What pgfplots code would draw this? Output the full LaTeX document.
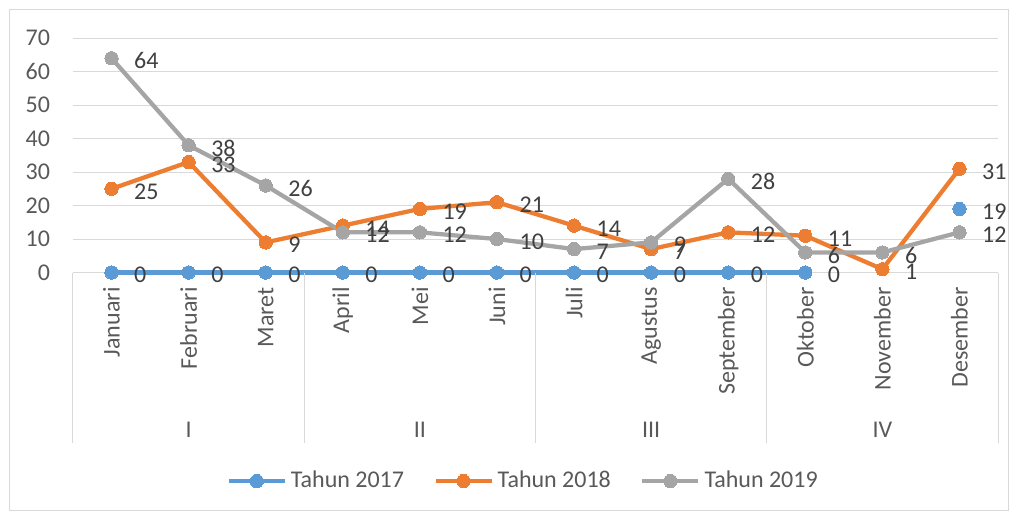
\documentclass[border=0pt]{standalone}
\usepackage{fontspec}
\setmainfont{Carlito}
\usepackage{pgfplots}
\pgfplotsset{compat=1.18}
\definecolor{c17}{HTML}{5B9BD5}
\definecolor{c18}{HTML}{ED7D31}
\definecolor{c19}{HTML}{A5A5A5}
\definecolor{gridc}{HTML}{D9D9D9}
\definecolor{txt}{HTML}{595959}
\definecolor{lbl}{HTML}{404040}
\begin{document}
\fontsize{18}{21}\selectfont
\begin{tikzpicture}[x=1pt,y=1pt]
\path (-54.75,-181.1) rectangle (709.5,204.4);
\draw[gridc, line width=0.75pt] (-47.25,-178.1) rectangle (701.25,196.9);
\begin{axis}[
  at={(0,0)}, anchor=south west, scale only axis,
  width=693.75pt, height=175.8pt,
  xmin=-0.5, xmax=11.5, ymin=0, ymax=70,
  ytick={0,10,...,70},
  xtick={0,...,11},
  xticklabels={Januari,Februari,Maret,April,Mei,Juni,Juli,Agustus,September,Oktober,November,Desember},
  axis x line*=bottom, axis y line*=left,
  x axis line style={gridc, line width=0.75pt, -},
  y axis line style={draw=none},
  ymajorgrids, grid style={gridc, line width=0.75pt},
  major tick length=0pt,
  /pgf/number format/assume math mode=true,
  tick label style={color=txt, font=\fontsize{18}{21}\selectfont},
  yticklabel style={anchor=east, inner sep=0pt, xshift=-17pt},
  xticklabel style={rotate=90, anchor=east, inner sep=0pt},
  xticklabel shift=11pt,
  clip=false,
  unbounded coords=jump,
  line join=round,
  every axis plot/.append style={line width=3.2pt, mark=*, mark size=5pt},
  nodes near coords,
  nodes near coords style={anchor=west, inner sep=0pt, xshift=17pt, yshift=-2pt, color=lbl, font=\fontsize{18}{21}\selectfont},
  legend columns=3,
  legend style={draw=none, fill=none, at={(axis description cs:0.5,0)}, anchor=center, yshift=-156.4pt, xshift=-9pt,
    font=\fontsize{18}{21}\selectfont, text=txt,
    /tikz/every even column/.append style={column sep=20pt},
    /tikz/every odd column/.append style={column sep=1pt}},
  legend image code/.code={\draw[mark repeat=2,mark phase=2,#1] plot coordinates {(0pt,0pt) (21pt,0pt) (42pt,0pt)};},
]
\addplot[color=c17, mark options={fill=c17, draw=c17, line width=0pt}] coordinates {
 (0,0) (1,0) (2,0) (3,0) (4,0) (5,0) (6,0) (7,0) (8,0) (9,0) (10,nan) (11,19)};
\addlegendentry{Tahun 2017}
\addplot[color=c18, mark options={fill=c18, draw=c18, line width=0pt}] coordinates {
 (0,25) (1,33) (2,9) (3,14) (4,19) (5,21) (6,14) (7,7) (8,12) (9,11) (10,1) (11,31)};
\addlegendentry{Tahun 2018}
\addplot[color=c19, mark options={fill=c19, draw=c19, line width=0pt}] coordinates {
 (0,64) (1,38) (2,26) (3,12) (4,12) (5,10) (6,7) (7,9) (8,28) (9,6) (10,6) (11,12)};
\addlegendentry{Tahun 2019}
\draw[gridc, line width=0.75pt] (axis cs:-0.5,0) -- ([yshift=-128pt]axis cs:-0.5,0);
\draw[gridc, line width=0.75pt] (axis cs:2.5,0) -- ([yshift=-128pt]axis cs:2.5,0);
\draw[gridc, line width=0.75pt] (axis cs:5.5,0) -- ([yshift=-128pt]axis cs:5.5,0);
\draw[gridc, line width=0.75pt] (axis cs:8.5,0) -- ([yshift=-128pt]axis cs:8.5,0);
\draw[gridc, line width=0.75pt] (axis cs:11.5,0) -- ([yshift=-128pt]axis cs:11.5,0);
\node[txt, anchor=center] at ([yshift=-118pt]axis cs:1,0) {I};
\node[txt, anchor=center] at ([yshift=-118pt]axis cs:4,0) {II};
\node[txt, anchor=center] at ([yshift=-118pt]axis cs:7,0) {III};
\node[txt, anchor=center] at ([yshift=-118pt]axis cs:10,0) {IV};
\end{axis}
\end{tikzpicture}
\end{document}
